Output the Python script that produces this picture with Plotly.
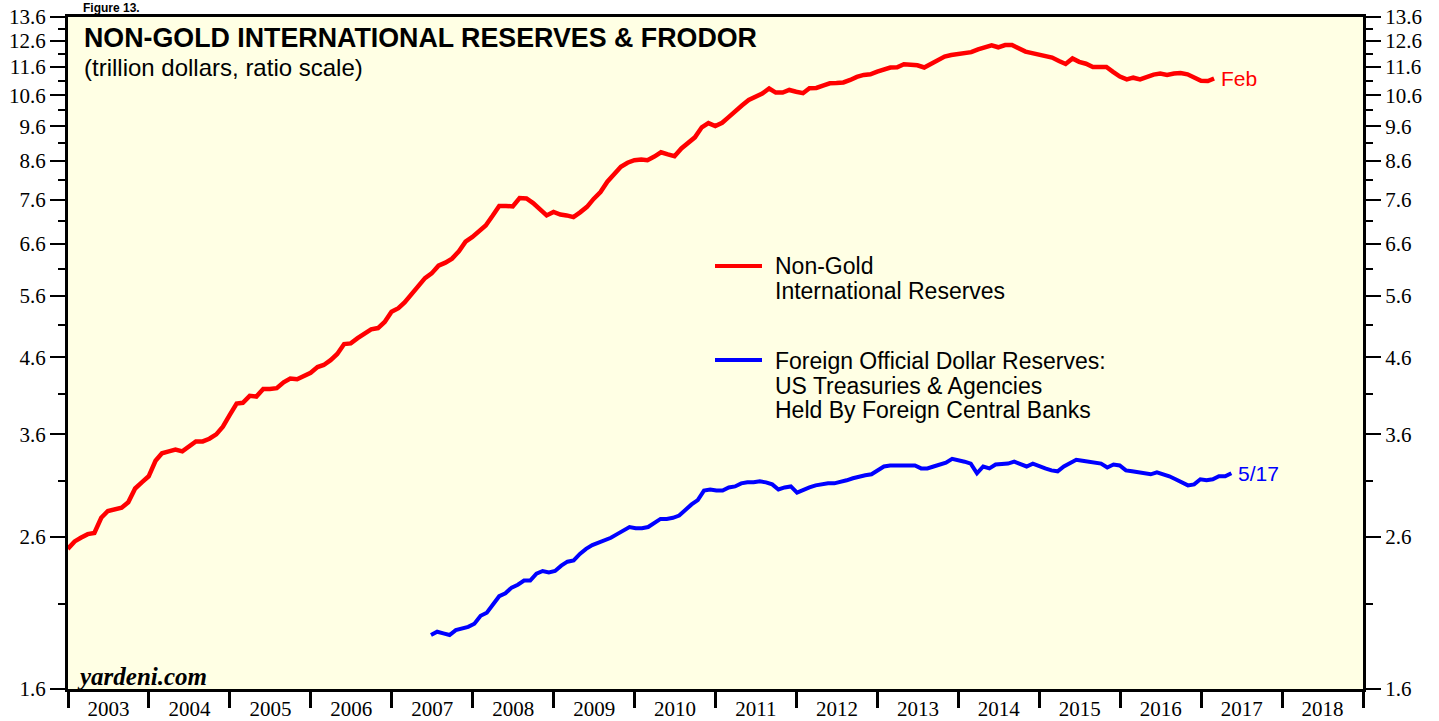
import numpy as np
import pandas as pd
import plotly.graph_objects as go

# Non-Gold International Reserves, trillion $, month-end Dec 2002 .. Feb 2017
reserves = [
    2.50, 2.56, 2.59, 2.62, 2.63, 2.76, 2.82, 2.84, 2.85, 2.90,
    3.03, 3.09, 3.15, 3.31, 3.39, 3.41, 3.43, 3.41, 3.47, 3.52,
    3.52, 3.55, 3.60, 3.69, 3.83, 3.97, 3.98, 4.07, 4.06, 4.16,
    4.16, 4.17, 4.25, 4.30, 4.29, 4.34, 4.38, 4.46, 4.49, 4.56,
    4.65, 4.80, 4.81, 4.89, 4.96, 5.03, 5.05, 5.15, 5.32, 5.38,
    5.48, 5.62, 5.77, 5.92, 6.01, 6.16, 6.22, 6.30, 6.45, 6.65,
    6.75, 6.89, 7.00, 7.22, 7.45, 7.45, 7.44, 7.64, 7.63, 7.52,
    7.36, 7.23, 7.31, 7.25, 7.23, 7.19, 7.30, 7.43, 7.62, 7.79,
    8.05, 8.25, 8.44, 8.55, 8.62, 8.64, 8.62, 8.72, 8.84, 8.78,
    8.73, 8.95, 9.11, 9.27, 9.57, 9.70, 9.61, 9.71, 9.88, 10.05,
    10.26, 10.44, 10.54, 10.66, 10.83, 10.69, 10.69, 10.78, 10.72, 10.67,
    10.84, 10.85, 10.93, 11.01, 11.02, 11.04, 11.13, 11.24, 11.31, 11.33,
    11.43, 11.51, 11.58, 11.59, 11.70, 11.68, 11.66, 11.58, 11.71, 11.86,
    11.99, 12.05, 12.10, 12.14, 12.16, 12.27, 12.33, 12.43, 12.35, 12.44,
    12.44, 12.30, 12.18, 12.12, 12.07, 12.02, 11.95, 11.82, 11.71, 11.92,
    11.79, 11.72, 11.60, 11.60, 11.60, 11.42, 11.25, 11.15, 11.21, 11.15,
    11.25, 11.32, 11.36, 11.31, 11.36, 11.38, 11.33, 11.22, 11.10, 11.09,
    11.18,
]
reserve_dates = pd.date_range("2002-12-01", periods=len(reserves), freq="MS") + pd.offsets.MonthEnd(0)

# Foreign official dollar reserves (FRODOR), trillion $, every 4th week to 5/17/2017
frodor = [
    1.90, 1.92, 1.91, 1.90, 1.93, 1.94, 1.95, 1.97, 2.02, 2.04,
    2.09, 2.15, 2.17, 2.21, 2.23, 2.26, 2.26, 2.31, 2.33, 2.32,
    2.33, 2.37, 2.40, 2.41, 2.46, 2.50, 2.53, 2.55, 2.57, 2.59,
    2.62, 2.65, 2.68, 2.67, 2.67, 2.68, 2.72, 2.75, 2.75, 2.76,
    2.78, 2.83, 2.88, 2.92, 3.01, 3.02, 3.01, 3.01, 3.04, 3.05,
    3.08, 3.09, 3.09, 3.10, 3.09, 3.07, 3.02, 3.04, 3.05, 2.99,
    3.02, 3.04, 3.06, 3.07, 3.08, 3.08, 3.09, 3.11, 3.13, 3.15,
    3.16, 3.17, 3.21, 3.25, 3.26, 3.26, 3.26, 3.27, 3.26, 3.23,
    3.23, 3.25, 3.27, 3.29, 3.33, 3.32, 3.30, 3.28, 3.18, 3.25,
    3.23, 3.27, 3.27, 3.28, 3.30, 3.28, 3.25, 3.28, 3.25, 3.23,
    3.21, 3.20, 3.25, 3.29, 3.32, 3.31, 3.30, 3.30, 3.28, 3.24,
    3.27, 3.26, 3.21, 3.20, 3.19, 3.18, 3.17, 3.19, 3.17, 3.15,
    3.12, 3.09, 3.06, 3.07, 3.12, 3.11, 3.12, 3.15, 3.15, 3.18,
]
frodor_dates = pd.date_range(end="2017-05-17", periods=len(frodor), freq="28D")

y_ticks = [1.6, 2.6, 3.6, 4.6, 5.6, 6.6, 7.6, 8.6, 9.6, 10.6, 11.6, 12.6, 13.6]
y_tick_text = ["1.6", "2.6", "3.6", "4.6", "5.6", "6.6", "7.6", "8.6", "9.6", "10.6", "11.6", "12.6", "13.6"]
y_minor = [2.1, 3.1, 4.1, 5.1, 6.1, 7.1, 8.1, 9.1, 10.1, 11.1, 12.1, 13.1]

RED = "#FF0000"
BLUE = "#0000FF"
SANS = "Liberation Sans"
SERIF = "Liberation Serif"

fig = go.Figure()
fig.add_trace(go.Scatter(x=reserve_dates, y=reserves, mode="lines",
                         line=dict(color=RED, width=4.5), showlegend=False))
fig.add_trace(go.Scatter(x=frodor_dates, y=frodor, mode="lines", yaxis="y2",
                         line=dict(color=BLUE, width=4), showlegend=False))

yax = dict(type="log", range=[np.log10(1.6), np.log10(13.6)], automargin=False,
           tickmode="array", tickvals=y_ticks, ticktext=y_tick_text,
           ticks="outside", ticklen=15, tickwidth=2, tickcolor="black",
           minor=dict(tickmode="array", tickvals=y_minor, ticks="outside",
                      ticklen=7, tickwidth=2, tickcolor="black", showgrid=False),
           showgrid=False, zeroline=False, showline=True, linewidth=3, linecolor="black",
           tickfont=dict(family=SERIF, size=21, color="black"))

fig.update_layout(
    width=1439, height=721,
    margin=dict(l=68, r=76, t=17, b=32, autoexpand=False),
    paper_bgcolor="white", plot_bgcolor="#FFFFE4",
    xaxis=dict(type="date", range=["2003-01-01", "2019-01-01"], automargin=False,
               tick0="2003-01-01", dtick="M12", tickformat="%Y",
               ticklabelmode="period", ticks="outside", ticklen=16, tickwidth=3,
               tickcolor="black", showline=True, linewidth=3, linecolor="black",
               mirror=True, showgrid=False, zeroline=False, ticklabelstandoff=-17,
               tickfont=dict(family=SERIF, size=21, color="black")),
    yaxis=dict(**yax, mirror=True),
    yaxis2=dict(**yax, overlaying="y", side="right"),
)

def px(X):
    return (X - 68) / 1295

def py(Y):
    return (689 - Y) / 672

ann = []
ann.append(dict(text="<b>Figure 13.</b>", x=px(82), y=py(0), xanchor="left", yanchor="top",
                borderpad=0, font=dict(family=SANS, size=12, color="black")))
ann.append(dict(text="<b>NON-GOLD INTERNATIONAL RESERVES &amp; FRODOR</b>", x=px(82), y=py(38),
                xanchor="left", yanchor="middle", font=dict(family=SANS, size=26.8, color="black")))
ann.append(dict(text="(trillion dollars, ratio scale)", x=px(82), y=py(68),
                xanchor="left", yanchor="middle", font=dict(family=SANS, size=24, color="black")))
legend_lines = [("Non-Gold", 266), ("International Reserves", 291),
                ("Foreign Official Dollar Reserves:", 361), ("US Treasuries &amp; Agencies", 386),
                ("Held By Foreign Central Banks", 410)]
for txt, yy in legend_lines:
    ann.append(dict(text=txt, x=px(774), y=py(yy), xanchor="left", yanchor="middle", borderpad=0,
                    font=dict(family=SANS, size=23, color="black")))
ann.append(dict(text="<b><i>yardeni.com</i></b>", x=px(75), y=py(676), xanchor="left",
                yanchor="middle", font=dict(family=SERIF, size=25, color="black")))
for a in ann:
    a.update(xref="paper", yref="paper", showarrow=False)

ann.append(dict(text="Feb", x=reserve_dates[-1], y=np.log10(reserves[-1]), xref="x", yref="y",
                xanchor="left", yanchor="middle", xshift=5, showarrow=False,
                font=dict(family=SANS, size=21, color=RED)))
ann.append(dict(text="5/17", x=frodor_dates[-1], y=np.log10(frodor[-1]), xref="x", yref="y2",
                xanchor="left", yanchor="middle", xshift=5, showarrow=False,
                font=dict(family=SANS, size=21, color=BLUE)))
fig.update_layout(annotations=ann)

fig.add_shape(type="line", xref="paper", yref="paper", x0=px(715), x1=px(762),
              y0=py(266), y1=py(266), line=dict(color=RED, width=4))
fig.add_shape(type="line", xref="paper", yref="paper", x0=px(715), x1=px(762),
              y0=py(360), y1=py(360), line=dict(color=BLUE, width=4))

fig.write_html("out.html", config={"displayModeBar": False},
               post_script="document.body.style.margin='0';document.body.style.overflow='hidden';")
